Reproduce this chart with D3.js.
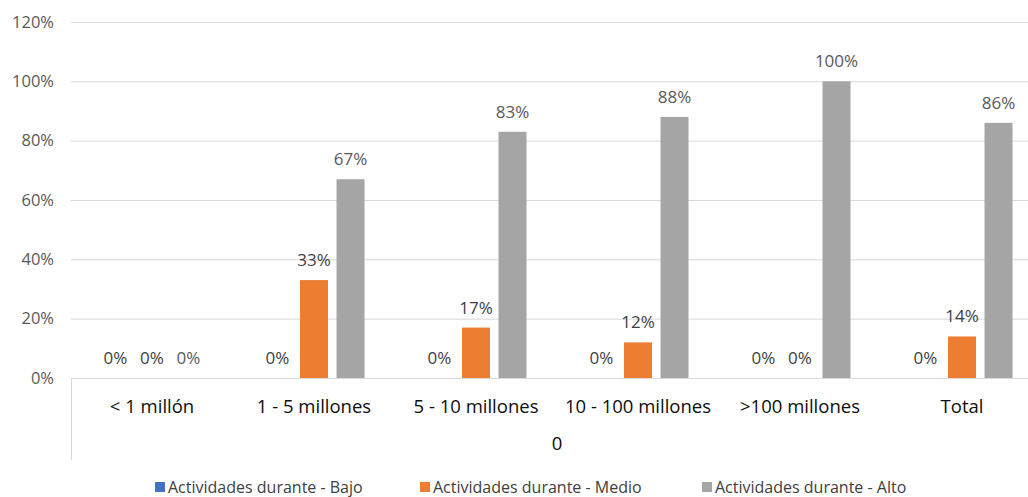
<!DOCTYPE html>
<html><head><meta charset="utf-8">
<script src="https://cdn.jsdelivr.net/npm/d3@7"></script>
<style>body{margin:0;background:#fff;}svg{display:block;font-family:"Open Sans","Noto Sans",sans-serif;}</style>
</head><body>
<svg id="c" width="1028" height="497"></svg>
<script>
const categories = ["< 1 millón", "1 - 5 millones", "5 - 10 millones", "10 - 100 millones", ">100 millones", "Total"];
const seriesNames = ["Actividades durante - Bajo", "Actividades durante - Medio", "Actividades durante - Alto"];
const bajo = [0, 0, 0, 0, 0, 0];
const medio = [0, 33, 17, 12, 0, 14];
const alto = [0, 67, 83, 88, 100, 86];
const yTicks = [0, 20, 40, 60, 80, 100, 120];
const groupLabel = "0";
const colors = ["#4472C4", "#ED7D31", "#A5A5A5"];
const labelColors = ["#404040", "#404040", "#595959"];

const svg = d3.select("#c");
const x = d3.scaleBand().domain(categories).range([71, 1043]);
const x1 = d3.scaleBand().domain([0,1,2]).range([-50.5, 50.5]).paddingInner(0.233);
const y = d3.scaleLinear().domain([0, 120]).range([378, 22]);

// gridlines
svg.append("g").selectAll("line").data(yTicks.slice(1)).join("line")
  .attr("x1", 71).attr("x2", 1028).attr("y1", d => y(d) + 0.5).attr("y2", d => y(d) + 0.5)
  .attr("stroke", "#d9d9d9").attr("stroke-width", 1);

// y axis labels
const yAxis = d3.axisLeft(y).tickValues(yTicks).tickFormat(d => d + "%").tickSize(0).tickPadding(0);
const ya = svg.append("g").attr("transform", "translate(54,0)").call(yAxis);
ya.select(".domain").remove();
ya.selectAll("text").attr("font-size", 16.5).attr("fill", "#595959").attr("font-family", "Open Sans");

// x axis line & multi-level box
svg.append("line").attr("x1", 71).attr("x2", 1028).attr("y1", 378.5).attr("y2", 378.5).attr("stroke", "#d9d9d9");
svg.append("line").attr("x1", 71.5).attr("x2", 71.5).attr("y1", 378).attr("y2", 460).attr("stroke", "#d9d9d9");

const xAxis = d3.axisBottom(x).tickSize(0).tickPadding(0);
const xa = svg.append("g").attr("transform", "translate(0,413)").call(xAxis);
xa.select(".domain").remove();
xa.selectAll("text").attr("dy", 0).attr("font-size", 18.5).attr("fill", "#0d0d0d").attr("font-family", "Open Sans");

svg.append("text").attr("x", (x.range()[0] + x.range()[1]) / 2).attr("y", 450)
  .attr("text-anchor", "middle").attr("font-size", 18.5).attr("fill", "#0d0d0d").text(groupLabel);

const series = [bajo, medio, alto];
series.forEach((vals, si) => {
  const g = svg.append("g");
  g.selectAll("rect").data(vals.map((v, i) => ({v, c: categories[i]}))).join("rect")
    .attr("x", d => x(d.c) + x.bandwidth()/2 + x1(si))
    .attr("width", x1.bandwidth())
    .attr("y", d => y(d.v))
    .attr("height", d => y(0) - y(d.v))
    .attr("fill", colors[si]);
  g.selectAll("text").data(vals.map((v, i) => ({v, c: categories[i]}))).join("text")
    .attr("x", d => x(d.c) + x.bandwidth()/2 + x1(si) + x1.bandwidth()/2)
    .attr("y", d => y(d.v) - 14)
    .attr("text-anchor", "middle").attr("font-size", 17).attr("fill", labelColors[si])
    .text(d => d.v + "%");
});

// legend
const legX = [155, 420, 702];
const lg = svg.append("g");
seriesNames.forEach((n, i) => {
  lg.append("rect").attr("x", legX[i]).attr("y", 482).attr("width", 10).attr("height", 10).attr("fill", colors[i]);
  lg.append("text").attr("x", legX[i] + 13).attr("y", 492.5).attr("font-size", 16).attr("fill", "#404040")
    .attr("font-family", "Liberation Sans Narrow, Open Sans").text(n);
});
</script>
</body></html>
